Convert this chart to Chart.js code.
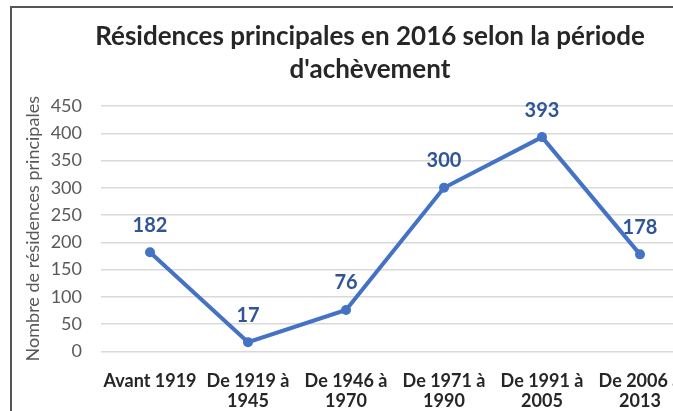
<!DOCTYPE html>
<html><head><meta charset="utf-8">
<script src="https://cdn.jsdelivr.net/npm/chart.js@4/dist/chart.umd.min.js"></script>
<style>
html,body{margin:0;padding:0;background:#fff;overflow:hidden;width:673px;height:411px;}
#wrap{position:absolute;left:10px;top:6px;width:716px;height:423px;border:2px solid #555;background:#fff;}
</style></head><body>
<div id="wrap"><canvas id="c" width="716" height="423"></canvas></div>
<script>
const categories = [["Avant 1919"], ["De 1919 à","1945"], ["De 1946 à","1970"], ["De 1971 à","1990"], ["De 1991 à","2005"], ["De 2006 à","2013"]];
const values = [182, 17, 76, 300, 393, 178];
const titleLines = ["Résidences principales en 2016 selon la période", "d'achèvement"];
const yTitle = "Nombre de résidences principales";
const FONT = "Lato, 'Liberation Sans', sans-serif";

const labelPlugin = {
  id: 'valueLabels',
  afterDatasetsDraw(chart) {
    const ctx = chart.ctx;
    const meta = chart.getDatasetMeta(0);
    ctx.save();
    ctx.font = "bold 20px " + FONT;
    ctx.fillStyle = '#2F5597';
    ctx.textAlign = 'center';
    ctx.textBaseline = 'middle';
    meta.data.forEach((pt, i) => {
      ctx.fillText(String(values[i]), pt.x, pt.y - 27);
    });
    ctx.restore();
  }
};

new Chart(document.getElementById('c'), {
  type: 'line',
  data: {
    labels: categories,
    datasets: [{
      data: values,
      borderColor: '#4472C4',
      backgroundColor: '#4472C4',
      borderWidth: 4,
      pointRadius: 5,
      pointBorderWidth: 0,
      pointBackgroundColor: '#4472C4',
      tension: 0
    }]
  },
  options: {
    responsive: false,
    animation: false,
    devicePixelRatio: 1,
    layout: { padding: { left: 0, right: 0, top: 0, bottom: 0 } },
    plugins: {
      legend: { display: false },
      tooltip: { enabled: false },
      title: {
        display: true,
        text: titleLines,
        color: '#262626',
        font: { family: FONT, size: 26, weight: 'bold', lineHeight: 1.27 },
        padding: { top: 12, bottom: 20 }
      }
    },
    scales: {
      x: {
        offset: true,
        grid: { display: false, drawTicks: false },
        border: { display: false },
        ticks: {
          color: '#262626',
          padding: 20,
          maxRotation: 0,
          autoSkip: false,
          font: { family: FONT, size: 18, weight: 'bold', lineHeight: 1.1 }
        }
      },
      y: {
        min: 0, max: 450,
        afterFit(scale) { scale.width = 89; },
        grid: { color: '#d9d9d9', lineWidth: 1.5, drawTicks: false },
        border: { display: false },
        ticks: {
          stepSize: 50,
          color: '#595959',
          padding: 19,
          font: { family: FONT, size: 18 }
        },
        title: {
          display: true,
          text: yTitle,
          color: '#595959',
          font: { family: FONT, size: 18, lineHeight: 1.2 },
          padding: { top: 10, bottom: 4 }
        }
      },
      yRight: {
        position: 'right',
        min: 0, max: 450,
        afterFit(scale) { scale.width = 39; },
        grid: { display: false, drawTicks: false },
        border: { display: false },
        ticks: { display: false }
      }
    }
  },
  plugins: [labelPlugin]
});
</script>
</body></html>
